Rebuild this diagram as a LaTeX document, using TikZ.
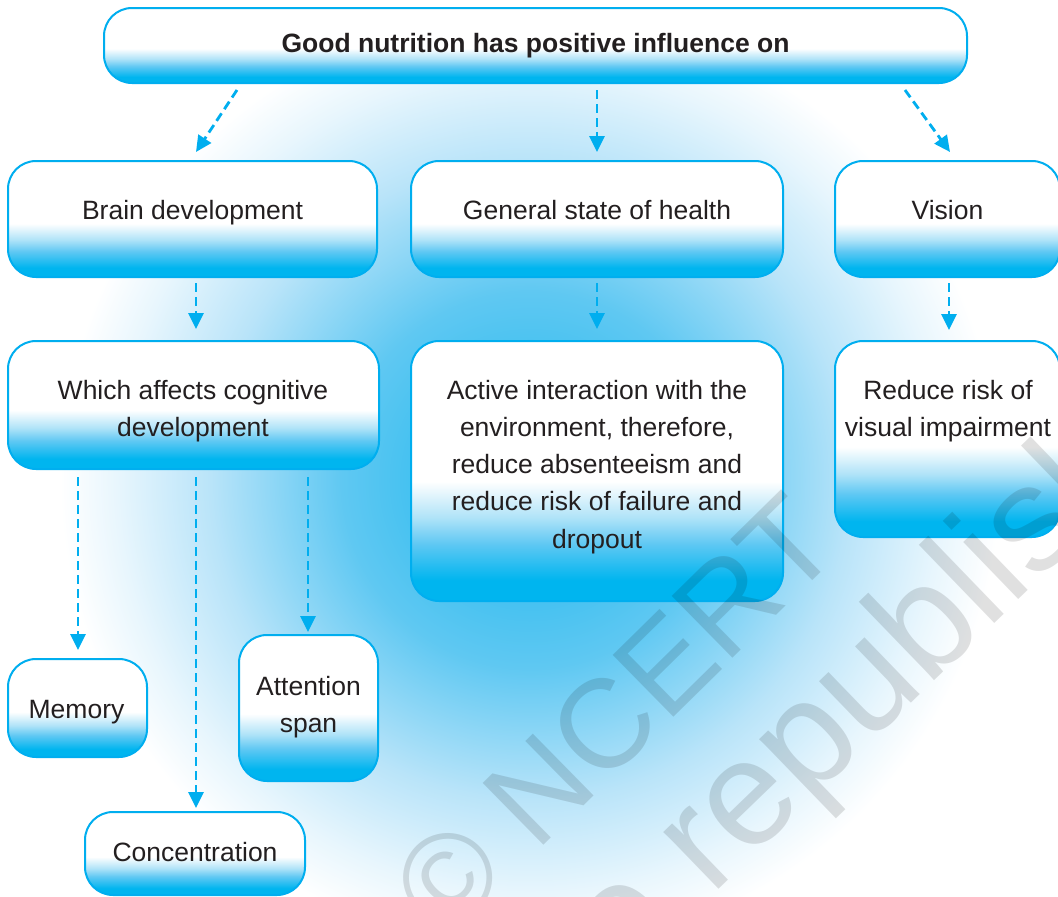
\documentclass[tikz,border=0pt]{standalone}
\usepackage{fontspec}
\setmainfont{Liberation Sans}
\usetikzlibrary{arrows.meta}
\definecolor{edgeC}{RGB}{0,174,239}
\definecolor{fillC}{RGB}{0,181,239}
\definecolor{fillM}{RGB}{95,200,243}
\definecolor{fillL}{RGB}{175,227,248}
\definecolor{glowA}{RGB}{25,182,238}
\definecolor{glowB}{RGB}{95,200,242}
\definecolor{glowC}{RGB}{185,228,249}
\definecolor{glowD}{RGB}{232,246,253}
\definecolor{textC}{RGB}{35,31,32}
\pgfdeclareverticalshading{boxshade}{100bp}{color(0bp)=(fillC); color(29bp)=(fillC); color(36bp)=(fillM); color(41bp)=(fillL); color(48bp)=(white); color(100bp)=(white)}
\pgfdeclareradialshading{glowshade}{\pgfpoint{0bp}{0bp}}{color(0bp)=(glowA); color(10bp)=(glowB); color(17bp)=(glowC); color(22bp)=(glowD); color(25bp)=(white); color(50bp)=(white)}
\newcommand{\dsize}{\fontsize{26.5}{37.3}\selectfont}
\newcommand{\mlines}[1]{\begin{tabular}[t]{@{}c@{}}#1\end{tabular}}
\tikzset{
  box/.style={draw=edgeC, line width=2pt, rounded corners=28pt, shade, shading=boxshade, inner sep=0pt, outer sep=0pt, anchor=north west},
  lbl/.style={anchor=base, inner sep=0pt, font=\dsize, text=textC},
  arr/.style={draw=edgeC, line width=2.8pt, dash pattern=on 9pt off 5pt, -{Triangle[length=16pt,width=15pt]}},
  wm/.style={anchor=base west, inner sep=0pt, text=black, text opacity=0.12}
}
\begin{document}
\begin{tikzpicture}[x=1pt,y=-1pt]
\useasboundingbox (0,0) rectangle (1058,897);
\fill[white] (0,0) rectangle (1058,897);
\shade[shading=glowshade] (530,480) circle (470);
% boxes
\node[box, minimum width=863pt, minimum height=75pt] (top) at (104,8) {};
\node[box, minimum width=369pt, minimum height=116pt] (brain) at (8,161) {};
\node[box, minimum width=372pt, minimum height=116pt] (general) at (411,161) {};
\node[box, minimum width=225pt, minimum height=116pt] (vision) at (835,161) {};
\node[box, minimum width=371pt, minimum height=128pt] (which) at (8,341) {};
\node[box, minimum width=372pt, minimum height=260pt] (active) at (411,341) {};
\node[box, minimum width=225pt, minimum height=196pt] (reduce) at (835,341) {};
\node[box, minimum width=139pt, minimum height=98pt] (memory) at (8,659) {};
\node[box, minimum width=139pt, minimum height=146pt] (attention) at (239,635) {};
\node[box, minimum width=220pt, minimum height=83pt] (conc) at (85,812) {};
% labels
\node[lbl, font=\dsize\bfseries] (tTop) at (535.5,52) {Good nutrition has positive influence on};
\node[lbl] (tBrain) at (192.5,219) {Brain development};
\node[lbl] (tGen) at (597,219) {General state of health};
\node[lbl] (tVis) at (947.5,219) {Vision};
\node[lbl] (tWhich) at (193,399) {\mlines{Which affects cognitive\\development}};
\node[lbl] (tAct) at (597,399) {\mlines{Active interaction with the\\environment, therefore,\\reduce absenteeism and\\reduce risk of failure and\\dropout}};
\node[lbl] (tRed) at (948,399) {\mlines{Reduce risk of\\visual impairment}};
\node[lbl] (tMem) at (76.5,718) {Memory};
\node[lbl] (tAtt) at (308.5,695) {\mlines{Attention\\span}};
\node[lbl] (tCon) at (195,861) {Concentration};
% connectors
\draw[arr] ([shift={(133,7)}]top.south west) -- ([shift={(188,-9)}]brain.north west);
\draw[arr] ([shift={(493,7)}]top.south west) -- ([shift={(186,-9)}]general.north west);
\draw[arr] ([shift={(801,7)}]top.south west) -- ([shift={(115,-9)}]vision.north west);
\draw[arr] ([shift={(188,6)}]brain.south west) -- ([shift={(188,-12)}]which.north west);
\draw[arr] ([shift={(186,6)}]general.south west) -- ([shift={(186,-12)}]active.north west);
\draw[arr] ([shift={(114,6)}]vision.south west) -- ([shift={(114,-11)}]reduce.north west);
\draw[arr] ([shift={(70,8)}]which.south west) -- ([shift={(70,-9)}]memory.north west);
\draw[arr] ([shift={(188,8)}]which.south west) -- ([shift={(111,-4)}]conc.north west);
\draw[arr] ([shift={(300,8)}]which.south west) -- ([shift={(69,-3)}]attention.north west);
% watermark
\node[wm, rotate=44.5, font=\fontsize{126}{151}\selectfont] (wm1) at (445,942) {© NCERT};
\node[wm, rotate=44, font=\fontsize{150}{180}\selectfont] (wm2) at (262,1331) {not to be republished};
\end{tikzpicture}
\end{document}
